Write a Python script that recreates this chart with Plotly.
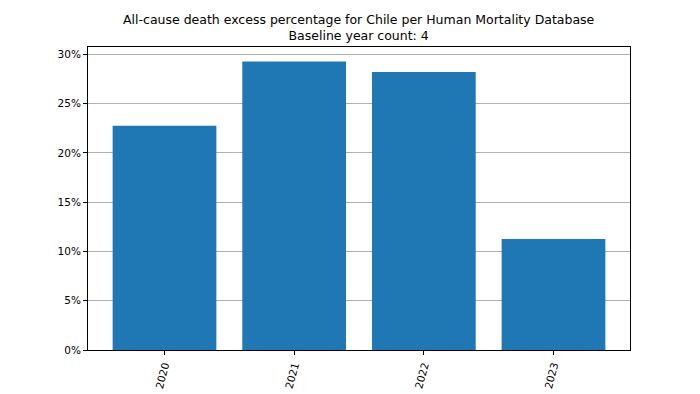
import plotly.graph_objects as go

years = [2020, 2021, 2022, 2023]
excess_pct = [22.75, 29.27, 28.19, 11.26]
y_ticks = [0, 5, 10, 15, 20, 25, 30]
y_tick_labels = ["0%", "5%", "10%", "15%", "20%", "25%", "30%"]
title_text = "All-cause death excess percentage for Chile per Human Mortality Database<br>Baseline year count: 4"

fig = go.Figure()
fig.add_trace(go.Bar(
    x=years, y=excess_pct, width=0.8,
    marker=dict(color="#1f77b4", line=dict(width=0)),
))

ymax = max(excess_pct) * 1.05
# page body has an 8px margin, so the figure is 692x386 and offsets compensate
fig.update_layout(
    width=692, height=386, autosize=False,
    margin=dict(l=80, r=70, t=39, b=44, pad=0),
    paper_bgcolor="white", plot_bgcolor="white",
    font=dict(family="DejaVu Sans", size=10, color="black"),
    showlegend=False,
    xaxis=dict(range=[2019.41, 2023.59], tickvals=years, ticktext=[str(y) for y in years],
               tickangle=-75, showgrid=False, zeroline=False, automargin=False,
               showline=True, linecolor="black", linewidth=1, mirror=True,
               ticks="outside", ticklen=4, tickcolor="black", tickfont=dict(size=10.5)),
    yaxis=dict(range=[0, ymax], tickvals=y_ticks, ticktext=y_tick_labels,
               showgrid=True, gridcolor="#b0b0b0", gridwidth=0.8, zeroline=False, automargin=False,
               showline=True, linecolor="black", linewidth=1, mirror=True,
               ticks="outside", ticklen=4, tickcolor="black", tickfont=dict(size=10.5)),
    annotations=[dict(text=title_text, xref="paper", yref="paper", x=0.5, y=1.005,
                      xanchor="center", yanchor="bottom", showarrow=False,
                      font=dict(size=12.5, family="DejaVu Sans", color="black"))],
)

fig.write_html("out.html")
